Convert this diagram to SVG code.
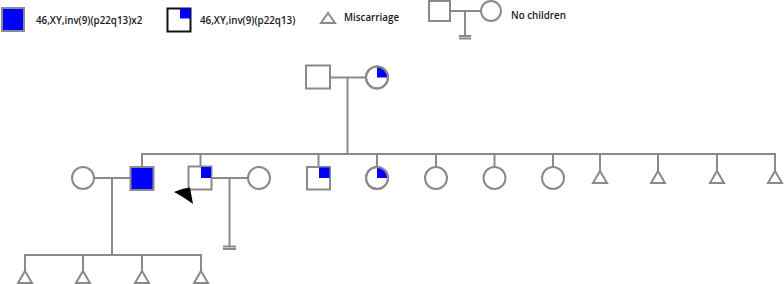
<svg xmlns="http://www.w3.org/2000/svg" width="784" height="284" viewBox="0 0 784 284">
<style>
.ln{stroke:#8a8a8a;stroke-width:2;fill:none}
.sh{stroke:#8a8a8a;stroke-width:2;fill:#fff}
.bl{fill:#0000ff;stroke:none}
.tx{font-family:"Open Sans","Liberation Sans",Arial,sans-serif;font-size:9.8px;font-weight:600;fill:#1a1a1a}
</style>
<defs>
<polygon id="tri" points="0,-6 7,6 -7,6"/>
</defs>
<rect width="784" height="284" fill="#fff"/>
<g id="legend">
<g id="leg-affected">
<rect x="2" y="8" width="22" height="23" class="sh" style="fill:#0000ff"/>
<text x="36" y="23.5" class="tx">46,XY,inv(9)(p22q13)x2</text>
</g>
<g id="leg-carrier">
<rect x="167.5" y="8.5" width="23" height="23" fill="#fff" stroke="#111" stroke-width="2"/>
<rect x="180" y="8.5" width="10.5" height="10" class="bl"/>
<text x="200" y="23.5" class="tx">46,XY,inv(9)(p22q13)</text>
</g>
<g id="leg-miscarriage">
<polygon points="328,13 335,23 321,23" class="sh" stroke-width="1.5"/>
<text x="344" y="20.5" class="tx">Miscarriage</text>
</g>
<g id="leg-nochildren">
<rect x="429" y="1" width="21" height="20" class="sh"/>
<circle cx="491" cy="11" r="10" class="sh"/>
<line x1="450" y1="11" x2="481" y2="11" class="ln"/>
<line x1="465" y1="11" x2="465" y2="37" class="ln"/>
<line x1="459" y1="36" x2="471" y2="36" class="ln"/>
<line x1="459" y1="38.5" x2="471" y2="38.5" class="ln"/>
<text x="511" y="18.5" class="tx">No children</text>
</g>
</g>
<g id="connectors">
<line x1="330" y1="77.5" x2="366" y2="77.5" class="ln"/>
<line x1="347.5" y1="77.5" x2="347.5" y2="154" class="ln"/>
<line x1="141" y1="154" x2="776" y2="154" class="ln"/>
<line x1="142" y1="154" x2="142" y2="167" class="ln"/>
<line x1="200.5" y1="154" x2="200.5" y2="166" class="ln"/>
<line x1="318.5" y1="154" x2="318.5" y2="167" class="ln"/>
<line x1="377" y1="154" x2="377" y2="167" class="ln"/>
<line x1="436" y1="154" x2="436" y2="167" class="ln"/>
<line x1="494.5" y1="154" x2="494.5" y2="167" class="ln"/>
<line x1="553" y1="154" x2="553" y2="167" class="ln"/>
<line x1="600" y1="154" x2="600" y2="171" class="ln"/>
<line x1="658" y1="154" x2="658" y2="171" class="ln"/>
<line x1="717" y1="154" x2="717" y2="171" class="ln"/>
<line x1="775" y1="154" x2="775" y2="171" class="ln"/>
<line x1="94" y1="178" x2="130" y2="178" class="ln"/>
<line x1="112" y1="178" x2="112" y2="255" class="ln"/>
<line x1="24" y1="255" x2="202" y2="255" class="ln"/>
<line x1="25" y1="255" x2="25" y2="272" class="ln"/>
<line x1="83" y1="255" x2="83" y2="272" class="ln"/>
<line x1="142" y1="255" x2="142" y2="272" class="ln"/>
<line x1="201" y1="255" x2="201" y2="272" class="ln"/>
<line x1="212" y1="178" x2="248" y2="178" class="ln"/>
<line x1="229.5" y1="178" x2="229.5" y2="247" class="ln"/>
<line x1="223" y1="246.5" x2="236" y2="246.5" class="ln"/>
<line x1="223" y1="249" x2="236" y2="249" class="ln"/>
</g>
<g id="father"><rect x="306" y="65.5" width="24" height="23" class="sh"/></g>
<g id="mother">
<circle cx="377" cy="77.5" r="11" class="sh"/>
<path d="M377,77.5 V66.5 A11,11 0 0 1 388,77.5 Z" class="bl"/>
<circle cx="377" cy="77.5" r="11" class="ln"/>
</g>
<g id="wife1"><circle cx="83" cy="178" r="11" class="sh"/></g>
<g id="son1"><rect x="130.5" y="167" width="23" height="23" class="sh" style="fill:#0000ff"/></g>
<g id="proband">
<rect x="188.5" y="166.5" width="23" height="23" class="sh"/>
<rect x="201" y="167" width="10" height="11" class="bl"/>
<path d="M174,192 Q182,188 190,187.5 L193,204 Q182,196 174,192 Z" fill="#000"/>
</g>
<g id="wife2"><circle cx="259" cy="178" r="11" class="sh"/></g>
<g id="son3">
<rect x="307" y="167" width="23" height="22.5" class="sh"/>
<rect x="319" y="167.5" width="10.5" height="10.5" class="bl"/>
</g>
<g id="dau1">
<circle cx="377" cy="178" r="11" class="sh"/>
<path d="M377,178 V167 A11,11 0 0 1 388,178 Z" class="bl"/>
<circle cx="377" cy="178" r="11" class="ln"/>
</g>
<g id="dau2"><circle cx="436" cy="178" r="11" class="sh"/></g>
<g id="dau3"><circle cx="494.5" cy="178" r="11" class="sh"/></g>
<g id="dau4"><circle cx="553" cy="178" r="11" class="sh"/></g>
<g id="mc1"><use href="#tri" x="600" y="177" class="sh"/></g>
<g id="mc2"><use href="#tri" x="658" y="177" class="sh"/></g>
<g id="mc3"><use href="#tri" x="717" y="177" class="sh"/></g>
<g id="mc4"><use href="#tri" x="775" y="177" class="sh"/></g>
<g id="gc1"><use href="#tri" x="25" y="277" class="sh"/></g>
<g id="gc2"><use href="#tri" x="83" y="277" class="sh"/></g>
<g id="gc3"><use href="#tri" x="142" y="277" class="sh"/></g>
<g id="gc4"><use href="#tri" x="201" y="277" class="sh"/></g>
</svg>
